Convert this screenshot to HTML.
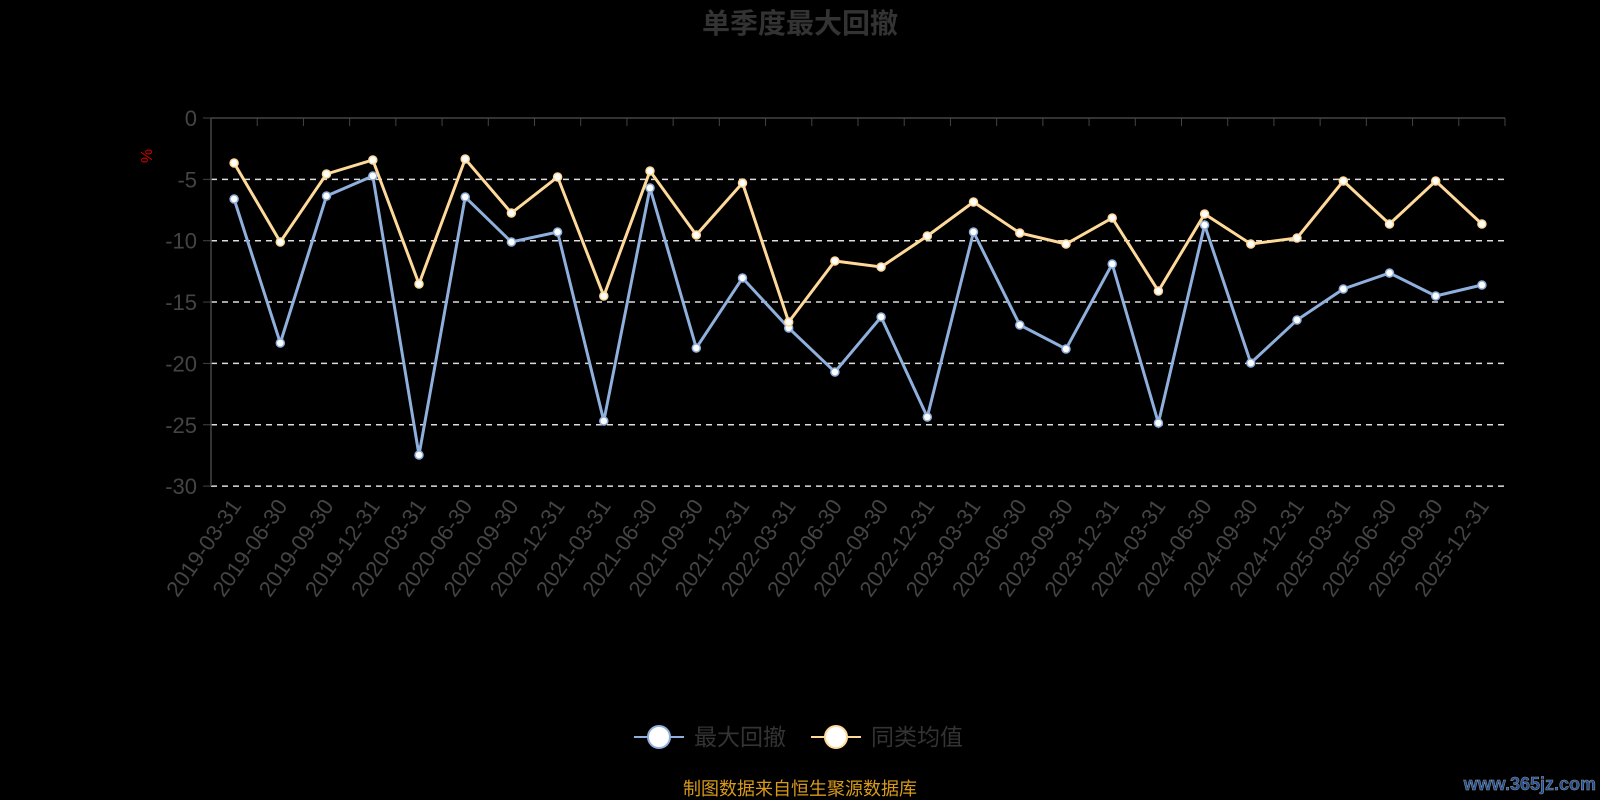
<!DOCTYPE html>
<html><head><meta charset="utf-8"><style>
html,body{margin:0;padding:0;background:#000;}
svg{display:block;font-family:"Liberation Sans","Noto Sans CJK SC",sans-serif;}
</style></head><body>
<svg id="c" width="1600" height="800" xmlns="http://www.w3.org/2000/svg">
<rect width="1600" height="800" fill="#000"/>
<text x="800" y="33" text-anchor="middle" font-size="28" font-weight="bold" fill="#333">单季度最大回撤</text>
<text x="158" y="162" font-size="16" fill="#c00" transform="rotate(-90 152 162)" text-anchor="middle">%</text>
<g id="g"></g>
<g>
<line x1="634" y1="737" x2="684" y2="737" stroke="#8fb0dc" stroke-width="2"/>
<circle cx="659" cy="737" r="11" fill="#fff" stroke="#8fb0dc" stroke-width="2"/>
<text x="694" y="745" font-size="23" fill="#333">最大回撤</text>
<line x1="811" y1="737" x2="861" y2="737" stroke="#ffd99a" stroke-width="2"/>
<circle cx="836" cy="737" r="11" fill="#fff" stroke="#ffd99a" stroke-width="2"/>
<text x="871" y="745" font-size="23" fill="#333">同类均值</text>
</g>
<text x="800" y="795" text-anchor="middle" font-size="18" fill="#d89a1a">制图数据来自恒生聚源数据库</text>
<text x="1596" y="790" text-anchor="end" font-size="18" font-weight="bold" fill="#1a4f9a" stroke="#999" stroke-width="0.5" font-family="Liberation Sans,sans-serif">www.365jz.com</text>
</svg>
<script>
var g=document.getElementById('g'),h='';
var X0=211,X1=1505,Y0=118,k=12.27;
var grid=[0,-5,-10,-15,-20,-25,-30];
grid.forEach(function(v){var y=Y0-v*k;
 if(v!==0)h+='<line x1="'+X0+'" y1="'+y+'" x2="'+X1+'" y2="'+y+'" stroke="#ddd" stroke-width="1.5" stroke-dasharray="6,5"/>';
 h+='<line x1="203" y1="'+y+'" x2="'+X0+'" y2="'+y+'" stroke="#444"/>';
 h+='<text x="197" y="'+(y+8)+'" text-anchor="end" font-size="22" fill="#444">'+v+'</text>';});
h+='<line x1="'+X0+'" y1="'+Y0+'" x2="'+X0+'" y2="486" stroke="#444" stroke-width="1.5"/>';
h+='<line x1="'+X0+'" y1="'+Y0+'" x2="'+X1+'" y2="'+Y0+'" stroke="#444" stroke-width="1.5"/>';
var n=28,bw=(X1-X0)/n;
for(var i=0;i<=n;i++){var x=X0+i*bw;h+='<line x1="'+x+'" y1="'+Y0+'" x2="'+x+'" y2="'+(Y0+8)+'" stroke="#444"/>';}
var labs=[];for(var yr=2019;yr<=2025;yr++)['03-31','06-30','09-30','12-31'].forEach(function(m){labs.push(yr+'-'+m);});
labs.forEach(function(l,i){var x=X0+bw*(i+0.5)+8;h+='<text x="'+x+'" y="506" text-anchor="end" font-size="22" fill="#444" transform="rotate(-55 '+x+' 506)">'+l+'</text>';});
var b=[199,343,196,176,455,197,242,232,421,188,348,278,328,372,317,417,232,325,349,264,423,225,363,320,289,273,296,285];
var yl=[163,242,174,160,284,159,213,177,296,171,235,183,322,261,267,236,202,233,244,218,291,214,244,238,181,224,181,224];
function ser(d,c){var p=d.map(function(y,i){return (X0+bw*(i+0.5)).toFixed(1)+','+y;}).join(' ');
 var s='<polyline points="'+p+'" fill="none" stroke="'+c+'" stroke-width="3"/>';
 d.forEach(function(y,i){s+='<circle cx="'+(X0+bw*(i+0.5)).toFixed(1)+'" cy="'+y+'" r="4" fill="#fff" stroke="'+c+'" stroke-width="1.5"/>';});return s;}
h+=ser(b,'#8fb0dc')+ser(yl,'#ffd99a');
g.innerHTML=h;
</script>
</body></html>
